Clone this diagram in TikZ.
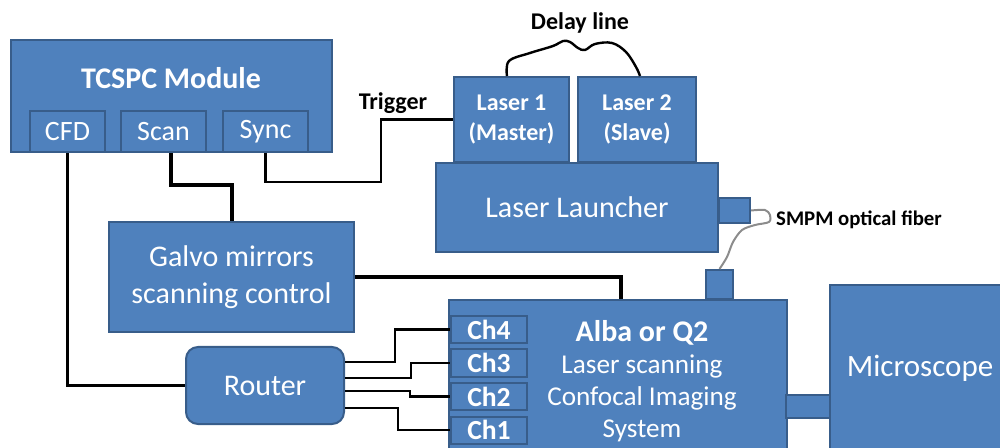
\documentclass[tikz,border=0pt]{standalone}
\usepackage{fontspec}
\setmainfont{Carlito}
\usepackage{xcolor}
\usepackage{tikz}
\usetikzlibrary{positioning}

\definecolor{boxfill}{HTML}{4F81BD}
\definecolor{boxline}{HTML}{385D8A}
\definecolor{fibergray}{HTML}{8C8C8C}

\begin{document}
\begin{tikzpicture}[
  x=0.5pt, y=-0.5pt,
  blk/.style={rectangle, draw=boxline, line width=1pt, fill=boxfill, text=white,
              inner sep=0pt, align=center, font=\fontsize{15}{18.5}\selectfont},
  port/.style={blk, minimum height=20.5pt, font=\fontsize{14}{16}\selectfont},
  chan/.style={blk, minimum width=38pt, minimum height=13.5pt,
               font=\bfseries\fontsize{13.8}{15}\selectfont},
  laser/.style={blk, minimum height=42.5pt, font=\bfseries\fontsize{12}{15}\selectfont},
  wtxt/.style={text=white, align=center, inner sep=0pt},
  lbl/.style={text=black, inner sep=0pt, font=\bfseries\fontsize{12}{14}\selectfont},
  wire/.style={line width=1.4pt},
  bus/.style={line width=2pt},
  fiber/.style={draw=fibergray, line width=1pt}
]
  \useasboundingbox (0,0) rectangle (1000,448);
  \clip (0,0) rectangle (1000,448);

  % TCSPC module and its ports
  \node[blk, minimum width=160.5pt, minimum height=56pt] (tcspc) at (171.5,96) {};
  \node[wtxt, font=\bfseries\fontsize{15}{18}\selectfont] (tcspctitle) at (171,78) {TCSPC Module};
  \node[port, minimum width=37.5pt] (cfd) at (67.5,131.5) {CFD};
  \node[port, minimum width=42.5pt, right=7pt of cfd] (scan) {Scan};
  \node[port, minimum width=42.5pt, right=7.5pt of scan] (sync) {Sync};

  % lasers and launcher
  \node[laser, minimum width=57.5pt] (laser1) at (511.5,119.5) {Laser 1\\(Master)};
  \node[laser, minimum width=59pt, right=3.5pt of laser1] (laser2) {Laser 2\\(Slave)};
  \node[blk, minimum width=141pt, minimum height=44.5pt, font=\fontsize{15}{18}\selectfont]
    (launcher) at (577,207.5) {Laser Launcher};
  \node[blk, minimum width=15.5pt, minimum height=12.5pt] (lport) at (734.5,210.5) {};

  % galvo and router
  \node[blk, minimum width=122.5pt, minimum height=55pt] (galvo) at (231.5,277)
    {Galvo mirrors\\scanning control};
  \node[blk, rounded corners=6pt, minimum width=79pt, minimum height=38.5pt]
    (router) at (265,385.5) {Router};

  % Alba / Q2 system
  \node[blk, minimum width=13.5pt, minimum height=14.5pt] (aport) at (719.5,284.5) {};
  \node[blk, minimum width=169pt, minimum height=85pt] (alba) at (618,385) {};
  \node[wtxt, font=\fontsize{13.6}{16}\selectfont] (albatxt) at (642,381)
    {{\bfseries\fontsize{15}{16}\selectfont Alba or Q2}\\Laser scanning\\Confocal Imaging\\System};
  \node[chan] (ch4) at (489,329.5) {Ch4};
  \node[chan, below=2.25pt of ch4] (ch3) {Ch3};
  \node[chan, below=2.25pt of ch3] (ch2) {Ch2};
  \node[chan, below=2.25pt of ch2] (ch1) {Ch1};

  % microscope
  \node[blk, minimum width=95pt, minimum height=92.5pt] (scope) at (925,377.5) {};
  \node[wtxt, font=\fontsize{15.5}{18}\selectfont] (scopetxt) at (920,368) {Microscope};
  \node[blk, minimum width=22pt, minimum height=11.5pt] (link) at (808,406.5) {};

  % labels
  \node[lbl] (trig) at (393,103) {Trigger};
  \node[lbl] (delay) at (580,23) {Delay line};
  \node[lbl, font=\bfseries\fontsize{10.4}{12}\selectfont] (smpm) at (859,220) {SMPM optical fiber};

  % cables
  \draw[wire] (cfd.south) |- (router.west);
  \draw[bus] ([xshift=3.75pt]scan.south) -- ++(0,32) -| (galvo.north);
  \draw[wire] (sync.south) -- ++(0,29) -| ([xshift=-36pt]laser1.west) -- (laser1.west);
  \draw[bus] (galvo.east) -| ([xshift=1.5pt]alba.north);
  \draw[wire] ([yshift=11.75pt]router.east) -- ++(50,0) |- (ch4.west);
  \draw[wire] ([yshift=3.75pt]router.east) -- ++(66,0) |- (ch3.west);
  \draw[wire] ([yshift=-2.75pt]router.east) -- ++(65,0) |- (ch2.west);
  \draw[wire] ([yshift=-11.25pt]router.east) -- ++(53,0) |- (ch1.west);

  % delay line and fiber
  \draw[line width=1.2pt] plot[smooth, tension=0.6] coordinates {([xshift=-2.25pt]laser1.north)
    (509,61) (530,53) (553,46) (563,41) (570,42) (578,48) (585,50) (595,44)
    (612,43) (626,52) (636,67) ([xshift=1.5pt]laser2.north)};
  \draw[fiber] plot[smooth, tension=0.5] coordinates {(lport.east) (765,210) (770,215)
    (769,222) (755,225) (742,230) (733,242) (727,257) (aport.north)};
\end{tikzpicture}
\end{document}
